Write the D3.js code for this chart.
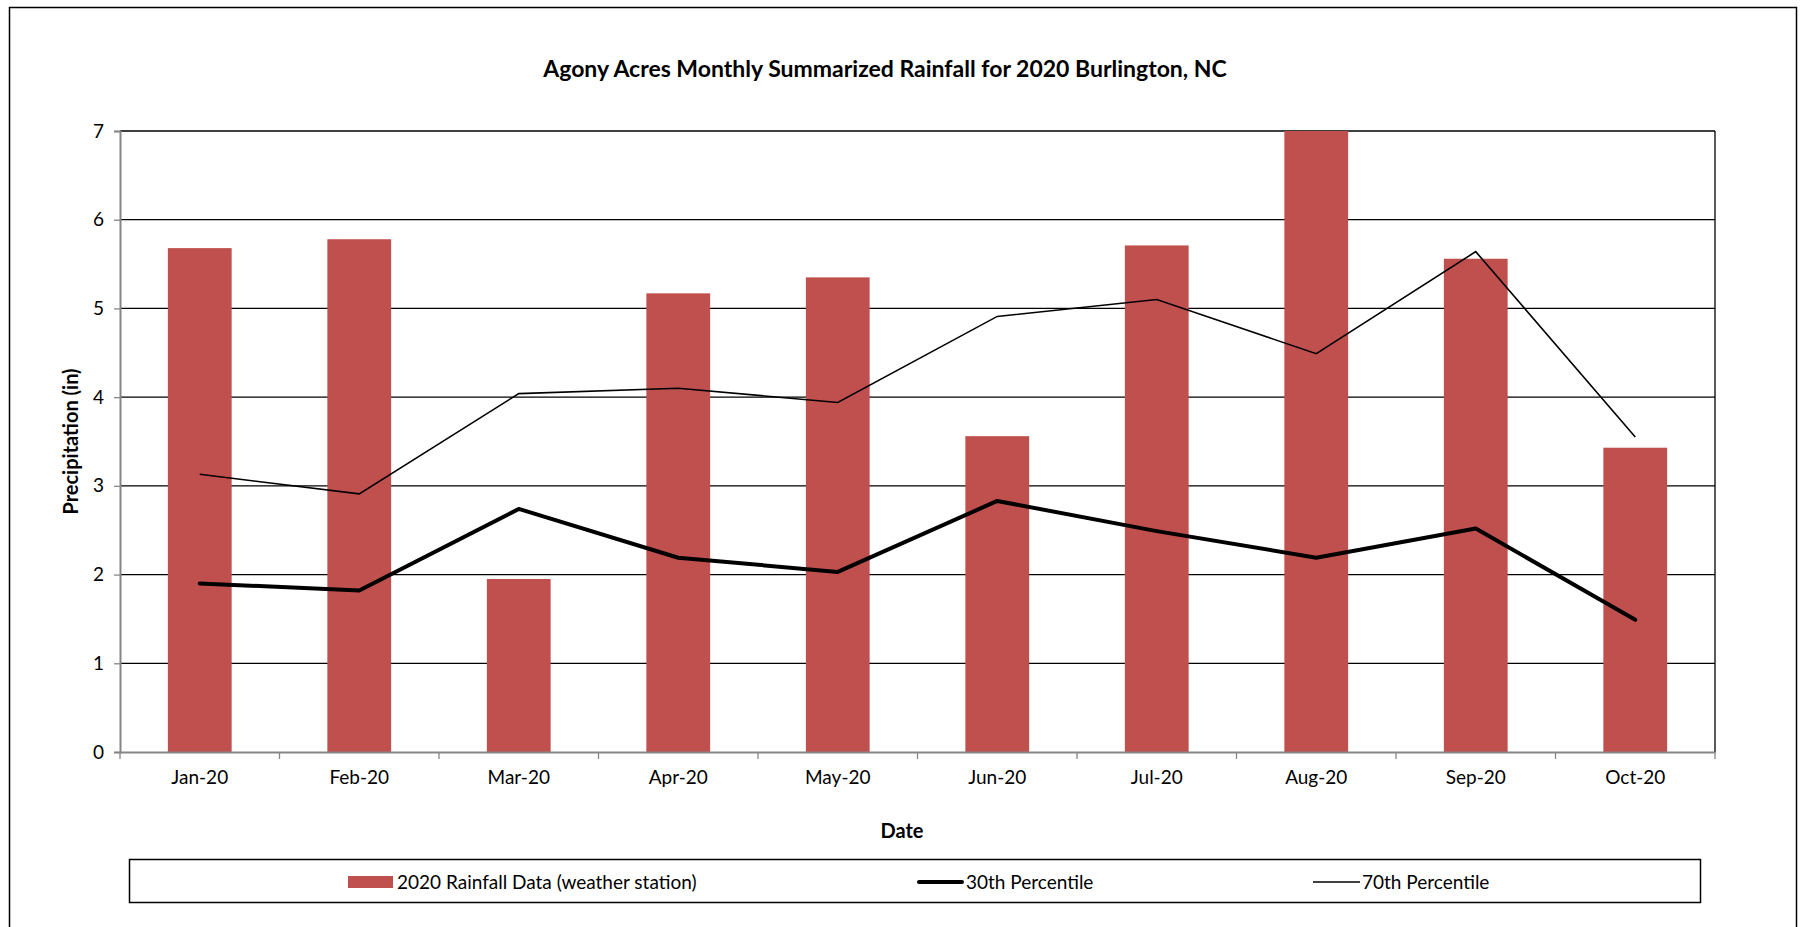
<!DOCTYPE html>
<html>
<head>
<meta charset="utf-8">
<script src="https://cdn.jsdelivr.net/npm/d3@7"></script>
<style>
  body { margin: 0; background: #fff; }
  svg { display: block; font-family: Lato, "Open Sans", sans-serif; }
  .axis text { font-family: Lato, "Open Sans", sans-serif; font-size: 19px; fill: #000; }
</style>
</head>
<body>
<div id="chart"></div>
<script>
const months = ["Jan-20", "Feb-20", "Mar-20", "Apr-20", "May-20", "Jun-20", "Jul-20", "Aug-20", "Sep-20", "Oct-20"];
const rainfall = [5.68, 5.78, 1.95, 5.17, 5.35, 3.56, 5.71, 7.0, 5.56, 3.43];
const pct30 = [1.90, 1.82, 2.74, 2.19, 2.03, 2.83, 2.49, 2.19, 2.52, 1.49];
const pct70 = [3.13, 2.91, 4.04, 4.10, 3.94, 4.91, 5.10, 4.49, 5.64, 3.55];
const yTicks = [0, 1, 2, 3, 4, 5, 6, 7];

const W = 1807, H = 927;
const margin = {top: 131, right: 92, bottom: 175, left: 120};
const width = W - margin.left - margin.right,
      height = H - margin.top - margin.bottom;

const svg = d3.select("#chart").append("svg")
    .attr("width", W)
    .attr("height", H);

// outer chart border
svg.append("rect")
    .attr("x", 9.5).attr("y", 7.5)
    .attr("width", 1787).attr("height", 940)
    .attr("fill", "none").attr("stroke", "#000").attr("stroke-width", 1.5);

svg.append("text")
    .attr("x", 885).attr("y", 77)
    .attr("text-anchor", "middle")
    .attr("font-size", 23).attr("font-weight", "bold")
    .text("Agony Acres Monthly Summarized Rainfall for 2020 Burlington, NC");

const g = svg.append("g")
    .attr("transform", "translate(" + margin.left + "," + margin.top + ")");

const x = d3.scaleBand().domain(months).range([0, width]).paddingInner(0.6).paddingOuter(0.3);
const xc = d3.scaleBand().domain(months).range([0, width]);
const y = d3.scaleLinear().domain([0, 7]).range([height, 0]);

// gridlines
g.selectAll(".grid")
    .data(yTicks.filter(d => d > 0))
  .enter().append("line")
    .attr("class", "grid")
    .attr("x1", 0).attr("x2", width)
    .attr("y1", d => y(d)).attr("y2", d => y(d))
    .attr("stroke", "#000").attr("stroke-width", 1.3);

// right border of plot
g.append("line")
    .attr("x1", width).attr("x2", width)
    .attr("y1", 0).attr("y2", height)
    .attr("stroke", "#000").attr("stroke-width", 1.3);

// bars
g.selectAll(".bar")
    .data(rainfall)
  .enter().append("rect")
    .attr("class", "bar")
    .attr("x", (d, i) => x(months[i]))
    .attr("width", x.bandwidth())
    .attr("y", d => y(d))
    .attr("height", d => height - y(d))
    .attr("fill", "#C0504D");

const line = d3.line()
    .x((d, i) => xc(months[i]) + xc.bandwidth() / 2)
    .y(d => y(d));

g.append("path").datum(pct70)
    .attr("d", line)
    .attr("fill", "none").attr("stroke", "#000").attr("stroke-width", 1.6);

g.append("path").datum(pct30)
    .attr("d", line)
    .attr("fill", "none").attr("stroke", "#000").attr("stroke-width", 4)
    .attr("stroke-linecap", "round").attr("stroke-linejoin", "round");

// axes
const yAxis = g.append("g")
    .attr("class", "axis")
    .call(d3.axisLeft(y).tickValues(yTicks).tickSize(6).tickPadding(10).tickFormat(d3.format("d")));
yAxis.select(".domain").attr("stroke", "#868686").attr("stroke-width", 2);
yAxis.selectAll(".tick line").attr("stroke", "#868686").attr("stroke-width", 1.3);

const xAxis = g.append("g")
    .attr("class", "axis")
    .attr("transform", "translate(0," + height + ")")
    .call(d3.axisBottom(xc).tickSize(0).tickPadding(19));
xAxis.select(".domain").attr("stroke", "#868686").attr("stroke-width", 2);

xAxis.selectAll(".sep")
    .data(d3.range(months.length + 1))
  .enter().append("line")
    .attr("class", "sep")
    .attr("x1", i => i * xc.step()).attr("x2", i => i * xc.step())
    .attr("y1", 0).attr("y2", 7)
    .attr("stroke", "#868686").attr("stroke-width", 1.3);

// axis titles
svg.append("text")
    .attr("transform", "translate(78," + (margin.top + height / 2) + ") rotate(-90)")
    .attr("text-anchor", "middle")
    .attr("font-size", 20).attr("font-weight", "bold")
    .text("Precipitation (in)");

svg.append("text")
    .attr("x", 902).attr("y", 838)
    .attr("text-anchor", "middle")
    .attr("font-size", 20).attr("font-weight", "bold")
    .text("Date");

// legend
const legend = svg.append("g");
legend.append("rect")
    .attr("x", 129.5).attr("y", 859.5)
    .attr("width", 1571).attr("height", 43)
    .attr("fill", "#fff").attr("stroke", "#000").attr("stroke-width", 1.5);

legend.append("rect")
    .attr("x", 348).attr("y", 876).attr("width", 45).attr("height", 12)
    .attr("fill", "#C0504D");
legend.append("text")
    .attr("x", 397).attr("y", 889).attr("font-size", 19)
    .text("2020 Rainfall Data (weather station)");

legend.append("line")
    .attr("x1", 919).attr("x2", 962).attr("y1", 882).attr("y2", 882)
    .attr("stroke", "#000").attr("stroke-width", 4).attr("stroke-linecap", "round");
legend.append("text")
    .attr("x", 966).attr("y", 889).attr("font-size", 19)
    .text("30th Percentile");

legend.append("line")
    .attr("x1", 1313).attr("x2", 1360).attr("y1", 882).attr("y2", 882)
    .attr("stroke", "#000").attr("stroke-width", 1.6);
legend.append("text")
    .attr("x", 1362).attr("y", 889).attr("font-size", 19)
    .text("70th Percentile");
</script>
</body>
</html>
